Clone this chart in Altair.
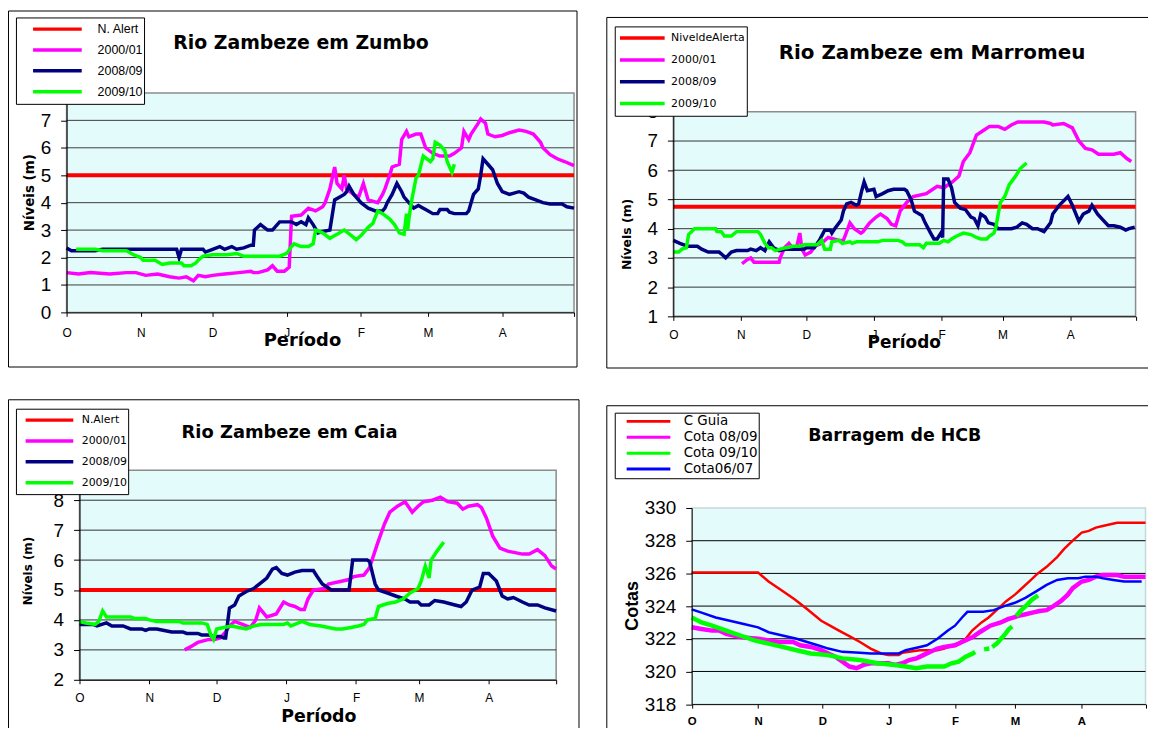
import json
import altair as alt
import pandas as pd

# ---------------- shared axis data ----------------
DAY_MAX = 212
MONTH_DAYS = [0, 31, 61, 92, 123, 151, 182, 212]
MONTH_LABELS = ["O", "N", "D", "J", "F", "M", "A", ""]

# ---------------- Rio Zambeze em Zumbo ----------------
Z_TITLE = "Rio Zambeze em Zumbo"
Z_NAMES = ["N. Alert", "2000/01", "2008/09", "2009/10"]
Z_ALERT = 5.0
Z_YTICKS = [0, 1, 2, 3, 4, 5, 6, 7, 8]
Z_GRID = [1, 2, 3, 4, 5, 6, 7]
Z_P_D = [0, 5, 10, 18, 25, 29, 33, 38, 43, 47, 50, 53, 55, 58, 61, 66, 72, 77, 78, 80, 84, 86, 88, 91, 93, 94, 98, 101, 104, 107,
         108, 110, 112, 113, 115, 116, 117, 120, 122, 124, 126, 130, 132, 133, 135, 136, 139, 140, 142, 143, 146, 148, 150, 153, 156, 160, 162, 165, 166, 168,
         169, 172, 173, 175, 176, 179, 182, 185, 189, 192, 195, 198, 199, 202, 205, 208, 212]
Z_P_V = [1.45, 1.4, 1.45, 1.4, 1.45, 1.45, 1.35, 1.4, 1.3, 1.25, 1.3, 1.15, 1.35, 1.3, 1.35, 1.4, 1.45, 1.5, 1.45, 1.45, 1.55, 1.7, 1.5, 1.5, 1.65, 3.5, 3.55, 3.8, 3.7, 3.85,
         4.0, 4.5, 5.3, 4.7, 4.5, 5.0, 4.5, 4.3, 4.2, 4.7, 4.1, 4.0, 4.3, 4.5, 5.0, 5.3, 5.4, 6.3, 6.6, 6.4, 6.5, 6.5, 6.0, 5.8, 5.7, 5.7, 5.8, 6.0, 6.6, 6.3,
         6.5, 6.9, 7.05, 6.9, 6.5, 6.4, 6.45, 6.55, 6.65, 6.6, 6.5, 6.2, 6.0, 5.75, 5.6, 5.5, 5.35]
Z_N_D = [0, 2, 12, 15, 46, 47, 48, 57, 58, 61, 64, 66, 69, 71, 74, 77, 78, 78.5, 81, 84, 86, 89, 94, 96, 98, 100, 101, 103, 105, 107,
         110, 112, 116, 117, 118, 120, 123, 126, 129, 132, 133, 134, 136, 138, 140, 141, 143, 145, 147, 149, 150, 153, 155, 156, 159, 160, 162, 167, 168, 170,
         172, 173, 174, 176, 178, 180, 182, 185, 189, 191, 193, 196, 199, 202, 207, 209, 212]
Z_N_V = [2.35, 2.25, 2.25, 2.3, 2.3, 2.0, 2.3, 2.3, 2.2, 2.3, 2.4, 2.3, 2.4, 2.3, 2.35, 2.45, 2.45, 3.0, 3.2, 3.0, 3.0, 3.3, 3.3, 3.2, 3.3, 3.2, 3.45, 3.2, 2.9, 2.95,
         3.0, 4.1, 4.3, 4.4, 4.6, 4.3, 4.0, 3.8, 3.7, 3.7, 3.8, 4.0, 4.3, 4.7, 4.4, 4.2, 4.0, 3.8, 3.9, 3.8, 3.75, 3.6, 3.6, 3.75, 3.75, 3.65, 3.6, 3.6, 3.7, 4.3,
         4.5, 5.0, 5.6, 5.4, 5.2, 4.7, 4.4, 4.3, 4.4, 4.35, 4.2, 4.1, 4.0, 3.95, 3.95, 3.85, 3.8]
Z_G_D = [4, 12, 15, 25, 26, 28, 31, 32, 37, 38, 40, 43, 48, 49, 52, 54, 55, 57, 61, 67, 71, 74, 89, 92, 94, 95, 98, 101, 103, 104,
         107, 110, 112, 113, 116, 119, 121, 123, 126, 128, 130, 132, 135, 137, 139, 141, 142, 142.5, 143, 144, 146, 147, 149, 152, 153, 154, 156, 158, 159, 161, 162]
Z_G_V = [2.3, 2.3, 2.25, 2.25, 2.2, 2.1, 2.0, 1.9, 1.9, 1.85, 1.75, 1.8, 1.8, 1.7, 1.7, 1.8, 1.9, 2.05, 2.1, 2.1, 2.15, 2.05, 2.05, 2.15, 2.4, 2.5, 2.4, 2.4, 2.5, 3.0,
         2.9, 2.7, 2.8, 2.85, 3.0, 2.8, 2.65, 2.8, 3.1, 3.25, 3.7, 3.6, 3.4, 3.2, 2.9, 2.85, 3.6, 3.0, 3.4, 4.0, 4.9, 5.0, 5.7, 5.5, 5.6, 6.2, 6.1, 5.9, 5.5, 5.1, 5.4]

# ---------------- Rio Zambeze em Marromeu ----------------
M_TITLE = "Rio  Zambeze em Marromeu"
M_NAMES = ["NiveldeAlerta", "2000/01", "2008/09", "2009/10"]
M_ALERT = 4.75
M_YTICKS = [1, 2, 3, 4, 5, 6, 7, 8]
M_GRID = [2, 3, 4, 5, 6, 7]
M_P_D = [31.5, 34, 35.5, 37, 48.5, 49, 51, 53, 55, 56.5, 58, 59, 60.5, 63, 65, 68, 71, 76, 78, 81, 83, 86, 87, 90, 93, 95, 98, 100, 102, 104,
         107, 110, 116, 118, 121, 124, 128, 131, 133, 136, 139, 142, 145, 149, 152, 155, 158, 170, 173, 174, 179, 183, 186, 189, 192, 195, 202, 205, 208, 210]
M_P_V = [2.8, 2.95, 3.0, 2.85, 2.85, 3.0, 3.35, 3.5, 3.3, 3.35, 3.85, 3.3, 3.1, 3.2, 3.4, 3.5, 3.7, 3.6, 3.6, 4.2, 4.0, 3.85, 3.9, 4.2, 4.4, 4.5, 4.35, 4.15, 4.1, 4.6,
         4.9, 5.1, 5.2, 5.3, 5.45, 5.4, 5.6, 5.8, 6.3, 6.6, 7.2, 7.35, 7.5, 7.5, 7.4, 7.55, 7.65, 7.65, 7.6, 7.55, 7.6, 7.45, 7.0, 6.75, 6.7, 6.55, 6.55, 6.6, 6.4, 6.3]
M_N_D = [0, 3, 6.5, 11, 13, 16, 21, 22.6, 24, 26.6, 29, 34, 35.5, 38, 40, 42, 44, 46, 48.5, 52, 60, 61, 64.6, 67, 69.4, 72, 72.7, 74, 77, 78,
         79.5, 81.5, 84, 85, 86.4, 87.5, 89, 92, 93, 96, 98.5, 101, 106, 107, 109, 110.6, 114, 115.5, 118, 119.5, 121, 122.7, 123.5, 124, 126, 127.6, 129, 131.6, 134, 136.5,
         138, 139.7, 141, 143, 144.5, 147, 149, 155, 157.5, 160, 162, 164.7, 167, 170, 173, 174, 177, 181, 183, 186, 188, 190.6, 192, 194.6, 197, 199.5, 202, 205, 207.5, 209, 211.6]
M_N_V = [3.6, 3.5, 3.4, 3.4, 3.3, 3.2, 3.2, 3.1, 3.0, 3.2, 3.25, 3.25, 3.3, 3.25, 3.35, 3.25, 3.55, 3.35, 3.25, 3.3, 3.3, 3.35, 3.35, 3.6, 3.95, 3.95, 3.85, 4.0, 4.3, 4.6,
         4.85, 4.9, 4.8, 4.85, 5.3, 5.6, 5.3, 5.35, 5.1, 5.2, 5.3, 5.35, 5.35, 5.3, 5.0, 4.6, 4.45, 4.2, 3.85, 3.65, 3.65, 3.85, 3.7, 5.7, 5.7, 5.4, 4.9, 4.7, 4.65, 4.4,
         4.35, 4.1, 4.5, 4.4, 4.2, 4.15, 4.0, 4.0, 4.05, 4.2, 4.15, 4.0, 4.0, 3.9, 4.2, 4.5, 4.8, 5.1, 4.8, 4.25, 4.5, 4.6, 4.8, 4.5, 4.3, 4.1, 4.1, 4.05, 3.95, 4.0, 4.05]
M_G_D = [0, 2.4, 4, 6, 7, 9.7, 19.4, 20, 22, 23.4, 26.6, 29, 38.8, 40, 42, 43.6, 45, 46.8, 49, 51.7, 55, 58, 60, 66, 68, 69.4, 72, 72.7, 76, 77.5,
         81, 82, 84, 93.7, 96, 103, 105, 106.6, 113, 114.7, 116, 119.5, 122, 124, 126, 127.6, 130, 133, 136.5, 139, 141, 143.7, 145, 147, 147.8, 149, 150, 152, 154, 157, 159, 162]
M_G_V = [3.2, 3.2, 3.3, 3.35, 3.8, 4.0, 4.0, 3.9, 3.9, 3.75, 3.75, 3.9, 3.9, 3.8, 3.5, 3.35, 3.35, 3.25, 3.3, 3.35, 3.4, 3.4, 3.45, 3.45, 3.6, 3.3, 3.3, 3.55, 3.6, 3.5,
         3.55, 3.5, 3.55, 3.55, 3.6, 3.6, 3.55, 3.45, 3.45, 3.35, 3.5, 3.5, 3.5, 3.6, 3.55, 3.65, 3.75, 3.85, 3.8, 3.7, 3.65, 3.65, 3.75, 3.85, 4.0, 4.5, 4.9, 5.1, 5.5, 5.8, 6.05, 6.25]

# ---------------- Rio Zambeze em Caia ----------------
C_TITLE = "Rio  Zambeze em Caia"
C_NAMES = ["N.Alert", "2000/01", "2008/09", "2009/10"]
C_ALERT = 5.0
C_YTICKS = [2, 3, 4, 5, 6, 7, 8, 9]
C_GRID = [3, 4, 5, 6, 7, 8]
C_P_D = [46.8, 49.3, 52.6, 57.6, 60, 62.6, 65, 66.7, 69, 72.5, 75.9, 78.4, 80, 83.3, 87.5, 90.8, 93.3, 95.8, 98.3, 100,
         101.6, 104, 109, 110.7, 117, 119.9, 122, 126.5, 129, 132.3, 135.6, 138, 141.4, 144.8, 148, 150.6, 153, 157, 160.5, 163.8,
         168, 170.5, 173, 177, 178.8, 181, 183.8, 187, 190.4, 193.7, 197, 200, 203.7, 207, 210, 212]
C_P_V = [3.0, 3.1, 3.25, 3.35, 3.35, 3.4, 3.6, 3.8, 3.95, 3.85, 3.75, 4.0, 4.4, 4.1, 4.2, 4.6, 4.5, 4.45, 4.35, 4.35,
         4.7, 5.0, 5.05, 5.2, 5.3, 5.35, 5.45, 5.5, 5.75, 6.5, 7.2, 7.6, 7.8, 7.95, 7.6, 7.8, 7.95, 8.0, 8.1, 7.95,
         7.9, 7.7, 7.8, 7.85, 7.75, 7.4, 6.8, 6.4, 6.3, 6.25, 6.2, 6.2, 6.35, 6.15, 5.8, 5.7]
C_N_D = [0, 6, 7.8, 12, 14.4, 19.4, 22.7, 27.7, 29.4, 31, 34.4, 37.7, 41, 46, 47.6, 52.6, 54.3, 57.6, 59.3, 62.6,
         64.2, 65, 66.7, 69, 70.9, 74.2, 77.5, 80.8, 83.3, 85.8, 87.5, 90, 92.5, 95.8, 99, 104, 105.7, 108, 112, 119.9,
         121.5, 124, 128, 129, 131.5, 133, 137, 140.6, 144.8, 147, 150.6, 152, 155.5, 158, 162, 167, 169.7, 172, 174.6, 178,
         179.6, 182, 185.4, 188, 190.4, 193, 197, 200, 203.7, 207, 212]
C_N_V = [3.85, 3.85, 3.8, 3.9, 3.8, 3.8, 3.7, 3.7, 3.65, 3.7, 3.7, 3.65, 3.6, 3.6, 3.55, 3.55, 3.5, 3.5, 3.45, 3.45,
         3.4, 3.4, 4.4, 4.5, 4.8, 4.95, 5.05, 5.25, 5.4, 5.7, 5.75, 5.55, 5.5, 5.6, 5.65, 5.65, 5.45, 5.2, 5.0, 5.0,
         6.0, 6.0, 6.0, 5.95, 5.2, 5.0, 4.9, 4.8, 4.7, 4.6, 4.6, 4.5, 4.5, 4.65, 4.6, 4.5, 4.45, 4.6, 5.0, 5.1,
         5.55, 5.55, 5.3, 4.8, 4.7, 4.75, 4.6, 4.5, 4.5, 4.4, 4.3]
C_G_D = [0, 2.8, 7, 8.6, 10.3, 12, 14.4, 22.7, 24.4, 29.4, 31, 34.4, 44.3, 46, 54.3, 56.8, 58.4, 59.6, 61, 64.2,
         67.6, 70.9, 74.2, 77.5, 80.8, 90.8, 92.5, 94, 97.4, 99, 102.4, 107.4, 110.7, 114, 117, 120.7, 124, 126.5, 128, 131.5,
         133, 137, 140.6, 144, 147, 150.6, 152, 153.8, 155.5, 156.4, 159, 161, 162]
C_G_V = [3.95, 3.9, 3.85, 3.95, 4.3, 4.1, 4.1, 4.1, 4.05, 4.05, 4.0, 3.95, 3.95, 3.9, 3.9, 3.85, 3.5, 3.35, 3.7, 3.75,
         3.8, 3.75, 3.7, 3.8, 3.85, 3.85, 3.9, 3.8, 3.9, 3.95, 3.85, 3.8, 3.75, 3.7, 3.7, 3.75, 3.8, 3.85, 4.0, 4.05,
         4.45, 4.55, 4.6, 4.7, 4.9, 5.05, 5.3, 5.8, 5.4, 6.0, 6.3, 6.5, 6.6]

# ---------------- Barragem de HCB ----------------
H_TITLE = "Barragem de HCB"
H_NAMES = ["C Guia", "Cota 08/09", "Cota 09/10", "Cota06/07"]
H_YTICKS = [318, 320, 322, 324, 326, 328, 330]
H_GRID = [320, 322, 324, 326, 328]
H_R_D = [0, 31, 35.9, 41.6, 48.2, 54, 60.5, 64.6, 68.8, 74.5, 78.6, 83.6, 88.5, 91.8, 96.7, 98.4, 101.6, 106.6, 114.8, 118,
         124.7, 128, 131, 135.4, 138.7, 142.8, 146.9, 151, 153.5, 157.6, 161.7, 165.8, 170.7, 174, 178, 182.2, 185.5, 188.8, 192, 198.7, 212]
H_R_V = [326.05, 326.05, 325.5, 325.0, 324.4, 323.8, 323.1, 322.8, 322.5, 322.1, 321.8, 321.4, 321.1, 321.0, 321.0, 321.15, 321.2, 321.3, 321.3, 321.4,
         321.75, 322.0, 322.5, 323.0, 323.3, 323.8, 324.3, 324.7, 325.0, 325.5, 326.0, 326.4, 327.0, 327.5, 328.0, 328.5, 328.6, 328.8, 328.9, 329.1, 329.1]
H_P_D = [0, 4.6, 9.5, 12.8, 16.1, 22.7, 31, 35.9, 40.8, 47.4, 50.7, 55.6, 60.5, 63.8, 67.1, 70.4, 73.7, 77, 80.3, 83.6,
         91.8, 95, 98.4, 101.6, 105, 108.2, 111.5, 114.8, 118, 123, 126.3, 131.3, 134.5, 139.5, 144.4, 147.7, 150.2, 152.6, 156, 159.2,
         162.5, 165.8, 169, 172.4, 175.7, 178, 182.2, 185.5, 188.8, 192, 198.7, 202, 212]
H_P_V = [322.7, 322.6, 322.5, 322.5, 322.3, 322.1, 322.0, 321.9, 321.8, 321.8, 321.6, 321.5, 321.3, 321.1, 320.9, 320.6, 320.3, 320.2, 320.4, 320.5,
         320.5, 320.4, 320.5, 320.7, 320.8, 321.0, 321.2, 321.4, 321.5, 321.6, 321.8, 322.1, 322.4, 322.8, 323.0, 323.2, 323.3, 323.4, 323.5, 323.6,
         323.7, 323.75, 324.0, 324.3, 324.7, 325.1, 325.5, 325.6, 325.8, 325.9, 325.9, 325.8, 325.8]
H_G1_D = [0, 4.6, 9.5, 16.1, 22.7, 29.3, 35.9, 42.4, 49, 55.6, 63.8, 70.4, 78.6, 86.8, 95, 100, 104.9, 109.9, 118, 121.4, 124.7, 128, 131.3, 132.4]
H_G1_V = [323.3, 323.0, 322.8, 322.5, 322.2, 321.9, 321.7, 321.5, 321.3, 321.1, 321.0, 320.8, 320.7, 320.5, 320.4, 320.3, 320.2, 320.3, 320.3, 320.5, 320.6, 320.9, 321.1, 321.2]
H_G2_D = [136.6, 139.0]
H_G2_V = [321.35, 321.4]
H_G3_D = [140.4, 142.5, 144.5, 146.5, 148.2, 149.7]
H_G3_V = [321.5, 321.7, 322.0, 322.3, 322.6, 322.75]
H_G4_D = [151.6, 154, 156.5, 159, 161.8]
H_G4_V = [323.4, 323.75, 324.05, 324.4, 324.65]
H_B_D = [0, 4.6, 11.2, 17.8, 24.3, 31, 35.9, 42.4, 49, 53.9, 58.9, 63.8, 70.4, 78.6, 83.6, 91.8, 96.7, 100, 106.6, 109.9,
         114.8, 119.7, 123, 126.3, 128.8, 136.2, 141.1, 146, 151, 155.9, 160.9, 165.8, 170.7, 175.7, 180.6, 183.9, 188.8, 192.1, 197, 202, 210.2]
H_B_V = [323.8, 323.6, 323.3, 323.1, 322.9, 322.7, 322.4, 322.2, 322.0, 321.8, 321.6, 321.4, 321.2, 321.15, 321.1, 321.1, 321.1, 321.3, 321.5, 321.6,
         322.0, 322.5, 322.8, 323.3, 323.65, 323.65, 323.75, 324.0, 324.2, 324.5, 324.9, 325.3, 325.6, 325.7, 325.7, 325.8, 325.8, 325.7, 325.6, 325.5, 325.5]

RIVER_COLORS = ["#FF0000", "#FF00FF", "#000080", "#00FF00"]
DAM_COLORS = ["#FF0000", "#FF00FF", "#00FF00", "#0000FF"]

# ---------------- layout ----------------
W, H = 1156, 728
BG = "#E4FBFB"
LABEL_EXPR = "%s[indexof(%s, datum.value)]" % (json.dumps(MONTH_LABELS), json.dumps(MONTH_DAYS))
NBSP = "\u00a0"


def series_df(days, vals, name, seg=0):
    return pd.DataFrame({"d": days, "v": vals, "s": name, "seg": seg})


def build_panel(c, series):
    xs = alt.Scale(domain=[0, DAY_MAX], range=[c["x0"], c["x1"]], nice=False, zero=False)
    ys = alt.Scale(domain=[c["ymin"], c["ymax"]], range=[c["yb"], c["yt"]], nice=False, zero=False)
    xkw = dict(orient="bottom", offset=c["yb"] - H, values=MONTH_DAYS, labelExpr=LABEL_EXPR, grid=False,
               domainColor="black", tickColor="black", tickSize=4, labelPadding=c["xlp"],
               labelFont=c["xlf"], labelFontSize=c["xls"], labelFontWeight=c["xlw"], labelColor="black",
               labelFlush=False, labelOverlap=False, zindex=1)
    if "xt" in c:
        xkw.update(title="Período", titleX=c["xt"][0], titleY=c["xt"][1] - c["yb"], titleFont="DejaVu Sans",
                   titleFontWeight="bold", titleFontSize=c["xt"][2], titleColor="black", titleAlign="center",
                   titleBaseline="alphabetic", titleAngle=0)
    else:
        xkw["title"] = None
    xax = alt.Axis(**xkw)
    yax = alt.Axis(orient="left", offset=-c["x0"], values=c["yticks"], grid=False, domainColor="black",
                   tickColor="black", tickSize=6, labelPadding=10, labelFont="Liberation Sans", labelFontSize=19,
                   labelColor="black", labelFlush=False, labelOverlap=False, zindex=1,
                   title=c["yt_text"], titleX=c["ytp"][0] - c["x0"], titleY=c["ytp"][1], titleFont=c["ytf"],
                   titleFontWeight="bold", titleFontSize=c["ytp"][2], titleColor="black", titleAlign="center",
                   titleBaseline="middle", titleAngle=270)
    L = c["leg"]
    legend = alt.Legend(orient="none", legendX=L["x"], legendY=L["y"], direction="vertical", title=None,
                        symbolType="stroke", symbolSize=L["S"] ** 2, symbolStrokeWidth=L["sw"],
                        clipHeight=L["ch"], rowPadding=0, padding=L["pad"], symbolOffset=L["so"],
                        labelOffset=L["lo"], labelFont=L["font"], labelFontSize=L["fs"], labelColor="black",
                        labelExpr="datum.label + '" + NBSP * L["nb"] + "'",
                        fillColor="white", strokeColor="black", cornerRadius=0, zindex=2)
    cscale = alt.Scale(domain=c["names"], range=c["colors"])

    fx0, fy0, fx1, fy1 = c["frame"]
    frame = alt.Chart(pd.DataFrame({"k": [0]})).mark_rect(fillOpacity=0, stroke="black", strokeWidth=1).encode(
        x=alt.value(fx0), x2=alt.value(fx1), y=alt.value(fy0), y2=alt.value(fy1))
    bg = alt.Chart(pd.DataFrame({"x0": [0], "x1": [DAY_MAX], "y0": [c["ymin"]], "y1": [c["ymax"]]})).mark_rect(
        fill=BG, stroke=c["border"], strokeWidth=1.5).encode(
        x=alt.X("x0:Q", scale=xs, axis=xax), x2="x1", y=alt.Y("y0:Q", scale=ys, axis=yax), y2="y1")
    grid = alt.Chart(pd.DataFrame({"g": c["grid"], "x0": 0, "x1": DAY_MAX})).mark_rule(
        color=c["gridc"], strokeWidth=1).encode(
        x=alt.X("x0:Q", scale=xs, axis=xax), x2="x1", y=alt.Y("g:Q", scale=ys, axis=yax))
    layers = [frame, bg, grid]
    for df, width in series:
        layers.append(alt.Chart(df).mark_line(strokeWidth=width).encode(
            x=alt.X("d:Q", scale=xs, axis=xax),
            y=alt.Y("v:Q", scale=ys, axis=yax),
            color=alt.Color("s:N", scale=cscale, legend=legend),
            detail="seg:N"))
    tx, ty, tfs = c["title_pos"]
    layers.append(alt.Chart(pd.DataFrame({"t": [c["title"]]})).mark_text(
        font="DejaVu Sans", fontWeight="bold", fontSize=tfs, align="center", baseline="alphabetic",
        color="black").encode(x=alt.value(tx), y=alt.value(ty), text="t:N"))
    return alt.layer(*layers)


p1 = build_panel(dict(
    x0=67, x1=578, yb=312, yt=91, ymin=0, ymax=8, yticks=Z_YTICKS, grid=Z_GRID, gridc="#3c3c3c", border="#8c8c8c",
    xlp=11, xlw="normal", xlf="Liberation Sans", xls=12, xt=(304, 345, 18), yt_text="Níveis (m)",
    ytp=(30, 191, 13.5), ytf="DejaVu Sans",
    frame=(8.5, 8.5, 581, 367), names=Z_NAMES, colors=RIVER_COLORS, title=Z_TITLE, title_pos=(303, 47, 19),
    leg=dict(x=16, y=15, S=49, sw=3.5, ch=20.5, pad=1.5, so=13.75, lo=14, font="Liberation Sans", fs=12.5, nb=5)),
    [(series_df([0, DAY_MAX], [Z_ALERT, Z_ALERT], Z_NAMES[0]), 4),
     (series_df(Z_P_D, Z_P_V, Z_NAMES[1]), 3.5),
     (series_df(Z_N_D, Z_N_V, Z_NAMES[2]), 3.5),
     (series_df(Z_G_D, Z_G_V, Z_NAMES[3]), 3.5)])

p2 = build_panel(dict(
    x0=678, x1=1143.5, yb=316, yt=110, ymin=1, ymax=8, yticks=M_YTICKS, grid=M_GRID, gridc="#303030", border="#8c8c8c",
    xlp=9, xlw="normal", xlf="Liberation Sans", xls=12, xt=(910, 347, 17), yt_text="Níveis (m)",
    ytp=(631, 233, 12.5), ytf="DejaVu Sans",
    frame=(611, 15, 1170, 368), names=M_NAMES, colors=RIVER_COLORS, title=M_TITLE, title_pos=(938.5, 57, 20),
    leg=dict(x=619, y=24, S=45, sw=3.5, ch=21.5, pad=1, so=2.25, lo=4.5, font="DejaVu Sans", fs=11, nb=3)),
    [(series_df([0, DAY_MAX], [M_ALERT, M_ALERT], M_NAMES[0]), 4),
     (series_df(M_P_D, M_P_V, M_NAMES[1]), 3.5),
     (series_df(M_N_D, M_N_V, M_NAMES[2]), 3.5),
     (series_df(M_G_D, M_G_V, M_NAMES[3]), 3.5)])

p3 = build_panel(dict(
    x0=80, x1=560, yb=682, yt=471, ymin=2, ymax=9, yticks=C_YTICKS, grid=C_GRID, gridc="#303030", border="#8c8c8c",
    xlp=9, xlw="normal", xlf="Liberation Sans", xls=12, xt=(320.5, 724, 17.5), yt_text="Níveis (m)",
    ytp=(28, 572, 12), ytf="DejaVu Sans",
    frame=(8.5, 400, 583, 760), names=C_NAMES, colors=RIVER_COLORS, title=C_TITLE, title_pos=(291.5, 438, 18),
    leg=dict(x=16, y=409, S=48, sw=3.5, ch=21, pad=1, so=6.75, lo=6.5, font="DejaVu Sans", fs=11, nb=2)),
    [(series_df([0, DAY_MAX], [C_ALERT, C_ALERT], C_NAMES[0]), 4),
     (series_df(C_P_D, C_P_V, C_NAMES[1]), 3.5),
     (series_df(C_N_D, C_N_V, C_NAMES[2]), 3.5),
     (series_df(C_G_D, C_G_V, C_NAMES[3]), 3.5)])

h_green = pd.concat([series_df(H_G1_D, H_G1_V, H_NAMES[2], 1), series_df(H_G2_D, H_G2_V, H_NAMES[2], 2),
                     series_df(H_G3_D, H_G3_V, H_NAMES[2], 3), series_df(H_G4_D, H_G4_V, H_NAMES[2], 4)],
                    ignore_index=True)
p4 = build_panel(dict(
    x0=696.5, x1=1153.5, yb=706.5, yt=509, ymin=318, ymax=330, yticks=H_YTICKS, grid=H_GRID, gridc="#000000",
    border="#c8d8d8", xlp=8, xlw="bold", xlf="Liberation Sans", xls=11.5, yt_text="Cotas",
    ytp=(637, 607, 18), ytf="Liberation Sans",
    frame=(611, 406, 1170, 760), names=H_NAMES, colors=DAM_COLORS, title=H_TITLE, title_pos=(901, 442, 17.5),
    leg=dict(x=619, y=413, S=44, sw=3, ch=15.5, pad=1, so=9.5, lo=12, font="DejaVu Sans", fs=13.5, nb=2)),
    [(series_df(H_R_D, H_R_V, H_NAMES[0]), 2.5),
     (series_df(H_P_D, H_P_V, H_NAMES[1]), 4.5),
     (h_green, 4.5),
     (series_df(H_B_D, H_B_V, H_NAMES[3]), 2.5)])

chart = alt.layer(p1, p2, p3, p4).resolve_scale(
    x="independent", y="independent", color="independent"
).resolve_axis(x="independent", y="independent").resolve_legend(color="independent").properties(
    width=W, height=H, autosize=alt.AutoSizeParams(type="none"),
    padding={"left": -8, "top": -8, "right": 0, "bottom": 0}
).configure_view(strokeWidth=0)

chart.save("out.html", embed_options={"renderer": "svg", "actions": False})
